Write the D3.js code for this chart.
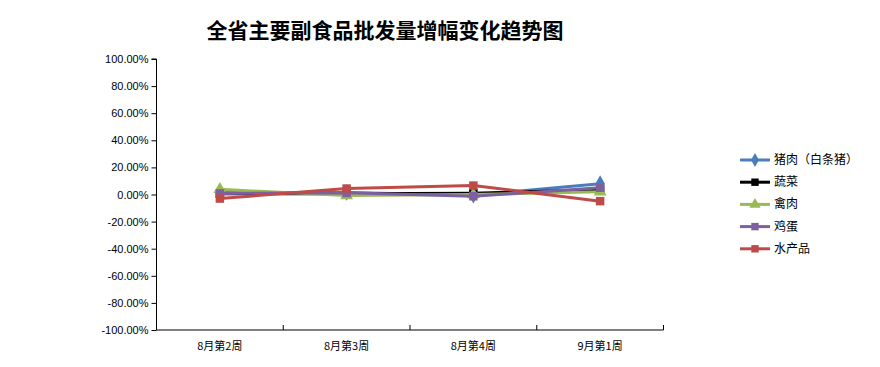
<!DOCTYPE html>
<html>
<head>
<meta charset="utf-8">
<script src="https://cdn.jsdelivr.net/npm/d3@7"></script>
<style>
  body { margin: 0; background: #fff; }
  svg text { font-family: "Liberation Sans", "Noto Sans CJK SC", sans-serif; }
</style>
</head>
<body>
<div id="chart"></div>
<script>
const title = '全省主要副食品批发量增幅变化趋势图';
const weeks = ['8月第2周', '8月第3周', '8月第4周', '9月第1周'];
const seriesNames = ['猪肉（白条猪）', '蔬菜', '禽肉', '鸡蛋', '水产品'];
const pork = [1.5, 1.5, -0.5, 8.0];
const veg = [0.5, 0.5, 1.0, 3.5];
const poultry = [3.8, -0.8, 0.0, 2.0];
const eggs = [0.8, 1.2, -1.3, 5.0];
const aquatic = [-3.0, 4.4, 6.6, -4.9];
const yTicks = [-100, -80, -60, -40, -20, 0, 20, 40, 60, 80, 100];

const colors = ['#4a7ebb', '#000000', '#98b954', '#7d60a0', '#be4b48'];
const shapes = [d3.symbolDiamond, d3.symbolSquare, d3.symbolTriangle, d3.symbolSquare, d3.symbolSquare];
const allValues = [pork, veg, poultry, eggs, aquatic];

const width = 880, height = 367;
const plotLeft = 156.5, plotRight = 663.5, plotTop = 59, plotBottom = 330;

const svg = d3.select('#chart').append('svg')
  .attr('width', width).attr('height', height);

svg.append('text')
  .attr('x', 385).attr('y', 38)
  .attr('text-anchor', 'middle')
  .style('font-family', '"Noto Sans CJK SC", sans-serif')
  .style('font-weight', 'bold')
  .style('font-size', '21px')
  .text(title);

const x = d3.scaleBand().domain(weeks).range([plotLeft, plotRight]);
const y = d3.scaleLinear().domain([-100, 100]).range([plotBottom, plotTop]);

const yAxis = d3.axisLeft(y).tickValues(yTicks).tickSize(5)
  .tickFormat(d => d.toFixed(2) + '%');
svg.append('g').attr('transform', `translate(${plotLeft},0)`).call(yAxis)
  .call(g => g.selectAll('path, line').attr('stroke', '#000'))
  .call(g => g.select('.domain').attr('d', `M-5,${plotTop}H0V${plotBottom}`))
  .call(g => g.selectAll('text').attr('x', -8).style('font-size', '11px').attr('fill', '#000'));

const xAxis = d3.axisBottom(x).tickSize(0).tickPadding(12);
const xg = svg.append('g').attr('transform', `translate(0,${plotBottom})`).call(xAxis);
xg.select('.domain').attr('d', `M${plotLeft},0H${plotRight}`).attr('stroke', '#000');
xg.selectAll('text').style('font-size', '11px').attr('fill', '#000')
  .style('font-family', '"Noto Sans CJK SC", sans-serif');
const bounds = weeks.map(w => x(w)).concat([plotRight]);
xg.selectAll('.sep').data(bounds).enter().append('line')
  .attr('x1', d => d).attr('x2', d => d).attr('y1', 0).attr('y2', -5)
  .attr('stroke', '#000');

const line = d3.line().x((d, i) => x(weeks[i]) + x.bandwidth() / 2).y(d => y(d));

allValues.forEach((vals, s) => {
  svg.append('path').datum(vals)
    .attr('d', line).attr('fill', 'none')
    .attr('stroke', colors[s]).attr('stroke-width', 3)
    .attr('stroke-linejoin', 'round');
  svg.selectAll(null).data(vals).enter().append('path')
    .attr('transform', (d, i) => `translate(${x(weeks[i]) + x.bandwidth() / 2},${y(d)})`)
    .attr('d', d3.symbol().type(shapes[s]).size(s === 0 ? 80 : 72))
    .attr('fill', colors[s]);
});

const legend = svg.append('g').attr('transform', 'translate(740,160)');
seriesNames.forEach((name, i) => {
  const g = legend.append('g').attr('transform', `translate(0,${i * 22.2})`);
  g.append('line').attr('x1', 0).attr('x2', 30).attr('stroke', colors[i]).attr('stroke-width', 3);
  g.append('path').attr('transform', 'translate(15,0)')
    .attr('d', d3.symbol().type(shapes[i]).size(55)).attr('fill', colors[i]);
  g.append('text').attr('x', 34).attr('y', 4)
    .style('font-family', '"Noto Sans CJK SC", sans-serif')
    .style('font-size', '12px').text(name);
});
</script>
</body>
</html>
